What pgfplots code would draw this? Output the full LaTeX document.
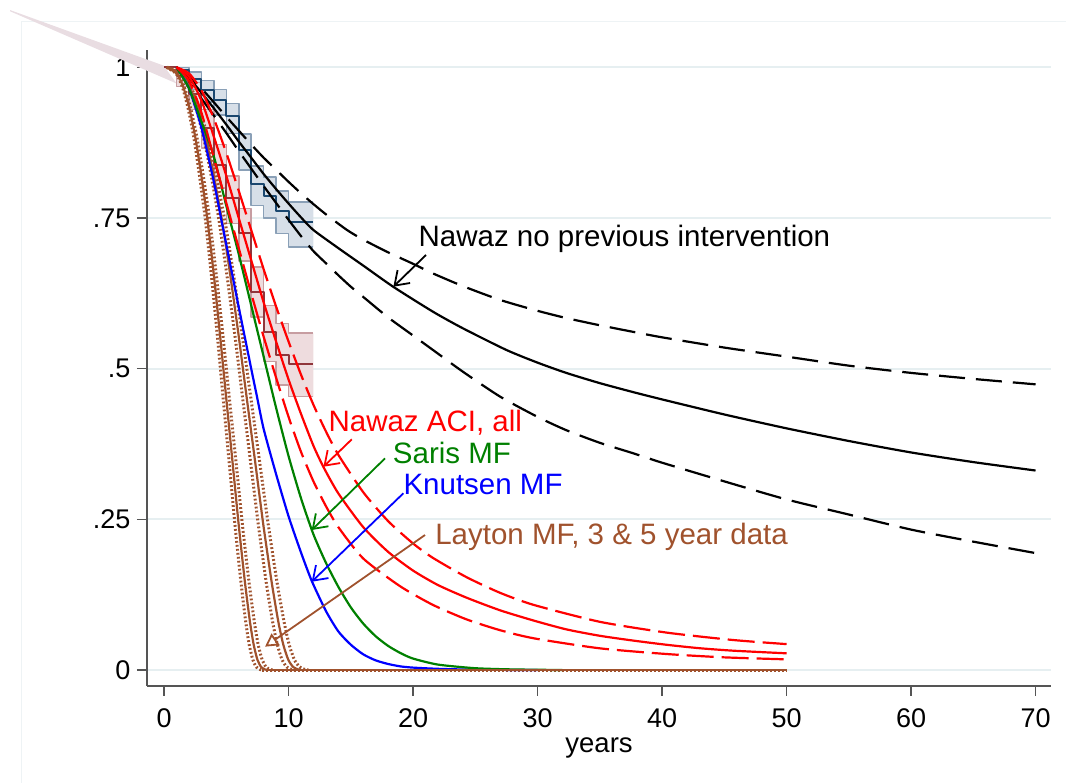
\documentclass[border=0pt]{standalone}
\usepackage{pgfplots}
\pgfplotsset{compat=1.18}
\usepackage{fontspec}
\setmainfont{Liberation Sans}
\usetikzlibrary{arrows.meta}
\definecolor{axgray}{HTML}{555555}
\definecolor{gridc}{HTML}{E6EFF1}
\definecolor{kmblue}{HTML}{1A476F}
\definecolor{kmbluefill}{HTML}{D7DFE8}
\definecolor{kmblueedge}{HTML}{8AA0B7}
\definecolor{kmred}{HTML}{90353B}
\definecolor{kmredfill}{HTML}{EEDCDE}
\definecolor{kmrededge}{HTML}{C79DA1}
\definecolor{sgreen}{HTML}{008000}
\definecolor{sienna}{HTML}{A0522D}
\definecolor{wedge}{HTML}{E9DDE2}
\definecolor{outer}{HTML}{EEF3F5}
\newcommand{\tickf}{\fontsize{27}{30}\selectfont}
\newcommand{\labf}{\fontsize{27.5}{30}\selectfont}
\newcommand{\annf}{\fontsize{29.5}{33}\selectfont}
\begin{document}
\begin{tikzpicture}
\path[use as bounding box] (-147pt,-97pt) rectangle (919pt,686pt);
\draw[outer, line width=1pt] (-125pt,-97pt) -- (-125pt,664pt) -- (919pt,664pt);
\begin{axis}[
  at={(0pt,0pt)}, anchor=south west,
  x=12.45pt, y=602.7pt,
  xmin=-1.37, xmax=71.2, ymin=-0.0265, ymax=1.028,
  axis x line*=bottom, axis y line*=left,
  axis line style={draw=axgray, line width=1.3pt},
  xtick={0,10,20,30,40,50,60,70},
  xticklabels={0,10,20,30,40,50,60,70},
  ytick={0,0.25,0.5,0.75,1},
  yticklabels={0,.25,.5,.75,1},
  tick align=outside, major tick length=10pt,
  tick style={draw=axgray, line width=1.3pt},
  tick label style={font=\tickf, text=black},
  xticklabel style={yshift=-9pt},
  yticklabel style={xshift=-3pt},
  ymajorgrids, grid style={draw=gridc, line width=2pt},
  clip=false,
  every axis plot/.append style={line join=round},
]
% artifact wedge
\addplot[fill=wedge, draw=none] coordinates {(-12.37,1.095) (-0.05,1.003) (1.02,0.973) (-12.37,1.093)} -- cycle;
% KM CI bands
\addplot[fill=kmbluefill, draw=none] coordinates {
(0,1) (1,1) (1,1.0) (2,1.0) (2,0.992) (3,0.992) (3,0.978) (4,0.978) (4,0.963) (5,0.963) (5,0.940) (6,0.940) (6,0.889) (7,0.889) (7,0.836) (8,0.836) (8,0.818) (9,0.818) (9,0.795) (10,0.795) (10,0.777) (12,0.777)
(12,0.702) (10,0.702) (10,0.724) (9,0.724) (9,0.750) (8,0.750) (8,0.771) (7,0.771) (7,0.830) (6,0.830) (6,0.890) (5,0.890) (5,0.921) (4,0.921) (4,0.942) (3,0.942) (3,0.963) (2,0.963) (2,0.985) (1,0.985) (1,1) (0,1)} -- cycle;
\addplot[fill=kmredfill, draw=none] coordinates {
(0,1) (1,1) (1,0.995) (2,0.995) (2,0.975) (3,0.975) (3,0.93) (4,0.93) (4,0.872) (5,0.872) (5,0.820) (6,0.820) (6,0.766) (7,0.766) (7,0.669) (8,0.669) (8,0.605) (9,0.605) (9,0.575) (10,0.575) (10,0.5587) (12,0.5587)
(12,0.4535) (10,0.4535) (10,0.473) (9,0.473) (9,0.512) (8,0.512) (8,0.586) (7,0.586) (7,0.679) (6,0.679) (6,0.741) (5,0.741) (5,0.80) (4,0.80) (4,0.866) (3,0.866) (3,0.93) (2,0.93) (2,0.968) (1,0.968) (1,1) (0,1)} -- cycle;
\addplot[const plot, draw=kmblueedge, line width=1.6pt] coordinates {(0,1) (1,1.0) (2,0.992) (3,0.978) (4,0.963) (5,0.940) (6,0.889) (7,0.836) (8,0.818) (9,0.795) (10,0.777) (12,0.777)};
\addplot[const plot, draw=kmblueedge, line width=1.6pt] coordinates {(0,1) (1,0.985) (2,0.963) (3,0.942) (4,0.921) (5,0.890) (6,0.830) (7,0.771) (8,0.750) (9,0.724) (10,0.702) (12,0.702)};
\addplot[const plot, draw=kmrededge, line width=1.6pt] coordinates {(0,1) (1,0.995) (2,0.975) (3,0.93) (4,0.872) (5,0.820) (6,0.766) (7,0.669) (8,0.605) (9,0.575) (10,0.5587) (12,0.5587)};
\addplot[const plot, draw=kmrededge, line width=1.6pt] coordinates {(0,1) (1,0.968) (2,0.93) (3,0.866) (4,0.80) (5,0.741) (6,0.679) (7,0.586) (8,0.512) (9,0.473) (10,0.4535) (12,0.4535)};
% KM estimates
\addplot[const plot, draw=kmblue, line width=2pt] coordinates {(0,1) (1,0.995) (2,0.98) (3,0.963) (4,0.945) (5,0.919) (6,0.862) (7,0.806) (8,0.787) (9,0.762) (10,0.743) (12,0.743)};
\addplot[const plot, draw=kmred, line width=2pt] coordinates {(0,1) (1,0.985) (2,0.955) (3,0.90) (4,0.838) (5,0.783) (6,0.7245) (7,0.628) (8,0.561) (9,0.5226) (10,0.507) (12,0.507)};
% Nawaz no previous intervention
\addplot[black, line width=2.2pt, smooth, tension=0.4] coordinates {(1,1) (2,0.982) (3,0.958) (4,0.932) (5,0.905) (6,0.877) (7,0.85) (8,0.823) (9,0.798) (10,0.774) (11,0.751) (12,0.730) (14,0.700) (16,0.671) (18.4,0.636) (21.6,0.5945) (24,0.567) (27.5,0.531) (30,0.51) (32.3,0.493) (35,0.476) (37.7,0.461) (40,0.449) (45,0.424) (50,0.401) (55,0.38) (60,0.361) (65,0.345) (70,0.331)};
\addplot[black, line width=2.2pt, dash pattern=on 26pt off 11pt, smooth, tension=0.4] coordinates {(1,1) (2,0.985) (3,0.965) (4,0.942) (5,0.918) (6,0.895) (7,0.872) (8,0.85) (9,0.83) (10,0.81) (11,0.791) (12,0.773) (13.07,0.755) (14.7,0.730) (16,0.714) (18,0.693) (20,0.674) (21.6,0.658) (24,0.637) (27,0.614) (30,0.596) (32.3,0.584) (35,0.572) (37.7,0.561) (40,0.552) (45,0.535) (50,0.52) (55,0.505) (60,0.493) (65,0.483) (70,0.474)};
\addplot[black, line width=2.2pt, dash pattern=on 26pt off 11pt, smooth, tension=0.4] coordinates {(1,1) (2,0.975) (3,0.948) (4,0.92) (5,0.891) (6,0.861) (7,0.832) (8,0.803) (9,0.775) (10,0.747) (11,0.72) (12,0.695) (13,0.675) (14,0.655) (15,0.636) (16,0.619) (18,0.585) (20,0.555) (21.6,0.531) (24,0.495) (27,0.4535) (30,0.42) (32.3,0.398) (35,0.377) (37.7,0.3595) (40,0.344) (45,0.313) (50,0.283) (55,0.258) (60,0.233) (65,0.213) (70,0.194)};
% Layton MF (brown), dotted CIs
\pgfplotsset{dotb/.style={sienna, line width=3pt, dash pattern=on 1.8pt off 2.2pt}}
\addplot[dotb, smooth, tension=0.4] coordinates {(0.19,1) (0.95,0.99) (1.43,0.97) (1.9,0.935) (2.38,0.885) (2.85,0.82) (3.33,0.745) (3.8,0.655) (4.28,0.555) (4.75,0.45) (5.23,0.345) (5.7,0.24) (6.18,0.145) (6.56,0.08) (6.84,0.042) (7.13,0.017) (7.41,0.005) (7.7,0.001) (7.89,0)};
\addplot[dotb, smooth, tension=0.4] coordinates {(0.21,1) (1.05,0.99) (1.58,0.97) (2.1,0.935) (2.63,0.885) (3.15,0.82) (3.68,0.745) (4.2,0.655) (4.73,0.555) (5.25,0.45) (5.78,0.345) (6.3,0.24) (6.83,0.145) (7.25,0.08) (7.56,0.042) (7.88,0.017) (8.19,0.005) (8.51,0.001) (8.72,0)};
\addplot[dotb, smooth, tension=0.4] coordinates {(0.25,1) (1.26,0.99) (1.9,0.97) (2.53,0.935) (3.16,0.885) (3.79,0.82) (4.42,0.745) (5.05,0.655) (5.69,0.555) (6.32,0.45) (6.95,0.345) (7.58,0.24) (8.21,0.145) (8.72,0.08) (9.1,0.042) (9.48,0.017) (9.86,0.005) (10.23,0.001) (10.49,0)};
\addplot[dotb, smooth, tension=0.4] coordinates {(0.28,1) (1.4,0.99) (2.09,0.97) (2.79,0.935) (3.49,0.885) (4.19,0.82) (4.89,0.745) (5.59,0.655) (6.28,0.555) (6.98,0.45) (7.68,0.345) (8.38,0.24) (9.08,0.145) (9.64,0.08) (10.05,0.042) (10.47,0.017) (10.89,0.005) (11.31,0.001) (11.59,0)};
\addplot[dotb] coordinates {(7.89,0) (50,0)};
\addplot[sienna, line width=2.2pt, smooth, tension=0.4] coordinates {(0.2,1) (1,0.99) (1.5,0.97) (2,0.935) (2.5,0.885) (3,0.82) (3.5,0.745) (4,0.655) (4.5,0.555) (5,0.45) (5.5,0.345) (6,0.24) (6.5,0.145) (6.9,0.08) (7.2,0.042) (7.5,0.017) (7.8,0.005) (8.1,0.001) (8.3,0)};
\addplot[sienna, line width=2.2pt, smooth, tension=0.4] coordinates {(0.27,1) (1.33,0.99) (2.0,0.97) (2.66,0.935) (3.33,0.885) (3.99,0.82) (4.66,0.745) (5.32,0.655) (5.99,0.555) (6.65,0.45) (7.32,0.345) (7.98,0.24) (8.65,0.145) (9.18,0.08) (9.58,0.042) (9.98,0.017) (10.37,0.005) (10.77,0.001) (11.04,0)};
% Knutsen MF
\addplot[blue, line width=2.2pt, smooth, tension=0.4] coordinates {(1,1) (2,0.965) (3,0.9) (4,0.81) (4.6,0.747) (5,0.706) (6,0.602) (7,0.50) (7.45,0.455) (8,0.40) (9,0.325) (10,0.255) (11,0.195) (11.86,0.148) (13,0.098) (14,0.064) (15,0.042) (16,0.026) (17,0.016) (18,0.01) (19,0.006) (20,0.004) (22,0.002) (25,0.0005) (30,0)};
\addplot[blue, line width=2.2pt] coordinates {(30,0) (50,0)};
% Saris MF
\addplot[sgreen, line width=2.2pt, smooth, tension=0.4] coordinates {(1,1) (2,0.965) (3,0.91) (4,0.852) (5,0.77) (6,0.69) (7,0.605) (8,0.52) (9,0.435) (10,0.355) (11,0.285) (12,0.225) (13,0.178) (14,0.138) (15,0.104) (16,0.077) (17,0.056) (18,0.04) (19,0.028) (20,0.019) (22,0.009) (25,0.003) (28,0.001) (32,0)};
\addplot[sgreen, line width=2.2pt] coordinates {(32,0) (50,0)};
% brown flat (on top, as in reference)
\addplot[sienna, line width=2.6pt] coordinates {(8.3,0) (50,0)};
% Nawaz ACI, all
\addplot[red, line width=2.2pt, smooth, tension=0.4] coordinates {(1,1) (2,0.985) (3,0.945) (4,0.885) (5,0.82) (6,0.75) (7,0.68) (8,0.61) (9,0.545) (10,0.482) (11,0.425) (12,0.372) (12.8,0.337) (14,0.293) (16,0.237) (18,0.196) (20,0.165) (22,0.141) (24.3,0.12) (27,0.099) (29.7,0.082) (32.3,0.0675) (35,0.0568) (37.7,0.0488) (40.4,0.0418) (43,0.0362) (45.7,0.0321) (50,0.0277)};
\addplot[red, line width=2.2pt, dash pattern=on 27pt off 8pt, smooth, tension=0.4] coordinates {(1,1) (2,0.99) (3,0.962) (4,0.915) (5,0.858) (6,0.795) (7,0.73) (8,0.665) (9,0.603) (10,0.545) (11,0.49) (12,0.44) (13,0.396) (14,0.357) (16,0.295) (18,0.247) (20,0.21) (21.6,0.186) (24.3,0.154) (27,0.128) (29.7,0.108) (35,0.08) (40.4,0.062) (45.7,0.0498) (50,0.043)};
\addplot[red, line width=2.2pt, dash pattern=on 27pt off 8pt, smooth, tension=0.4] coordinates {(1,1) (2,0.978) (3,0.925) (4,0.85) (5,0.775) (6,0.7) (7,0.625) (8,0.553) (9,0.485) (10,0.42) (11,0.362) (12,0.313) (13,0.272) (14,0.237) (16,0.185) (18.96,0.139) (21.6,0.108) (24.3,0.084) (27,0.066) (29.7,0.0526) (35,0.036) (40.4,0.0265) (45,0.021) (50,0.0177)};
% annotations
\tikzset{barb/.style={line width=1.8pt, -{Straight Barb[length=13pt,width=18pt,line width=1.8pt]}}}
\node[anchor=base west, inner sep=0pt, font=\annf, text=black] at (axis cs:20.43,0.7035) {Nawaz no previous intervention};
\draw[barb, black] (axis cs:21.04,0.6886) -- (axis cs:18.42,0.636);
\node[anchor=base west, inner sep=0pt, font=\annf, text=red] at (axis cs:13.2,0.3954) {Nawaz ACI, all};
\draw[barb, red] (axis cs:15.08,0.3828) -- (axis cs:12.8,0.3373);
\node[anchor=base west, inner sep=0pt, font=\annf, text=sgreen] at (axis cs:18.37,0.343) {Saris MF};
\draw[barb, sgreen] (axis cs:17.75,0.3512) -- (axis cs:11.86,0.2323);
\node[anchor=base west, inner sep=0pt, font=\annf, text=blue] at (axis cs:19.22,0.2904) {Knutsen MF};
\draw[barb, blue] (axis cs:19.22,0.2932) -- (axis cs:11.86,0.1465);
\node[anchor=base west, inner sep=0pt, font=\annf, text=sienna] at (axis cs:21.77,0.209) {Layton MF, 3 \& 5 year data};
\draw[sienna, line width=1.8pt, -{Triangle[open,length=13pt,width=14pt,line width=1.8pt]}] (axis cs:20.96,0.224) -- (axis cs:8.11,0.0387);
\node[anchor=base, inner sep=0pt, font=\labf] at (axis cs:34.94,-0.1372) {years};
\end{axis}
\end{tikzpicture}
\end{document}
